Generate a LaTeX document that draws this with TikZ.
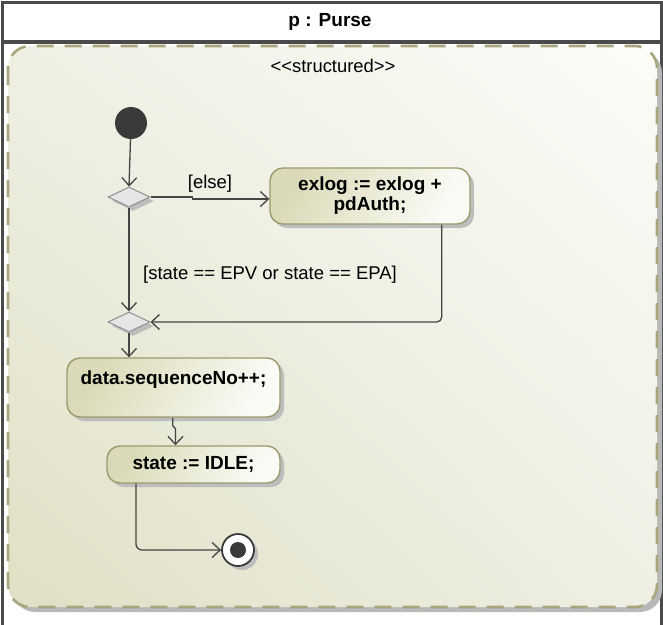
\documentclass[tikz,border=0pt]{standalone}
\usepackage{fontspec}
\setmainfont{Liberation Sans}
\usetikzlibrary{arrows.meta,shapes.geometric,shadows,shadings}
\definecolor{framegray}{HTML}{4A4A4A}
\definecolor{dashol}{HTML}{A9A57C}
\definecolor{regiondark}{HTML}{E0E0C6}
\definecolor{regionmid}{HTML}{EFEFE4}
\definecolor{regionlight}{HTML}{FCFCF8}
\definecolor{actdark}{HTML}{DADAB8}
\definecolor{actlight}{HTML}{FBFBF6}
\definecolor{actborder}{HTML}{9C9A6C}
\definecolor{edgegray}{HTML}{454545}
\definecolor{nodedark}{HTML}{3A3A3A}
\definecolor{diamfill}{HTML}{E6E6E6}
\definecolor{diamborder}{HTML}{8E8E8E}
\tikzset{
  softshadow/.style={general shadow={shadow xshift=4pt, shadow yshift=-4pt, fill=black!26}},
  actbox/.style={draw=actborder, line width=1.4pt, rounded corners=13pt,
    left color=actdark, right color=actlight, shading angle=60,
    softshadow, font=\fontsize{19}{20}\selectfont\bfseries, align=center, inner sep=0pt},
  decision/.style={diamond, draw=diamborder, line width=1pt, fill=diamfill,
    minimum width=42pt, minimum height=20pt, inner sep=0pt, softshadow},
  flow/.style={draw=edgegray, line width=1.3pt,
    -{Straight Barb[length=8pt,width=15pt,line width=1.3pt]}},
  guard/.style={font=\fontsize{18.5}{20}\selectfont, text=black, inner sep=0pt},
}
\begin{document}
\begin{tikzpicture}[x=1pt,y=-1pt]
\useasboundingbox (0,0) rectangle (663,624);
\fill[white] (0,0) rectangle (663,624);

% outer frame with title compartment
\draw[framegray, line width=3pt] (2,640) -- (2,2) -- (661,2) -- (661,640);
\draw[framegray, line width=3.5pt] (2,42) -- (661,42);
\node[font=\fontsize{19}{20}\selectfont\bfseries] (title) at (330,22) {p : Purse};

% structured region (y axis points down, so the shading's "lower" row is drawn on top)
\fill[black!28, rounded corners=22pt] (13,51) rectangle (662,612);
\shade[lower left=regiondark, lower right=regionmid, upper left=regionmid,
  upper right=regionlight, rounded corners=22pt]
  (8,46) rectangle (657,607);
\draw[dashol, line width=2.6pt, dash pattern=on 17pt off 11pt, rounded corners=22pt]
  (8,46) rectangle (657,607);
\node[font=\fontsize{18.4}{20}\selectfont] (stereo) at (333,66)
  {<\kern0pt<structured>\kern0pt>};

% activity nodes
\node[circle, fill=nodedark, minimum size=32pt, inner sep=0pt] (init) at (131,123) {};
\node[decision] (dec) at (129,197) {};
\node[decision] (merge) at (129,322) {};
\node[actbox, minimum width=200pt, minimum height=56pt] (exlog) at (370,196)
  {exlog := exlog +\\pdAuth;};
\node[actbox, minimum width=213pt, inner ysep=0pt, text height=26pt, text depth=33pt]
  (seq) at (173.5,387.5) {data.sequenceNo++;};
\node[actbox, minimum width=173pt, minimum height=37pt] (idle) at (193.5,464.5)
  {state := IDLE;};
\node[circle, draw=nodedark, line width=1.8pt, fill=white, minimum size=32pt,
  inner sep=0pt, softshadow] (final) at (238,550) {};
\node[circle, fill=nodedark, minimum size=16pt, inner sep=0pt] (finaldot) at (final.center) {};

% control flows
\draw[flow] (init) -- (dec.north);
\draw[flow] (dec.east) -- ++(42,0) -- ++(0,2) -- ([yshift=-3pt]exlog.west);
\node[guard] (elseguard) at (210,184) {[else]};
\draw[flow] (dec.south) -- (merge.north);
\node[guard] (stateguard) at (270,275) {[state == EPV or state == EPA]};
\draw[flow, rounded corners=5pt] ([xshift=71.7pt]exlog.south) |- (merge.east);
\draw[flow] (merge.south) -- (merge.south |- seq.north);
\draw[flow] ([xshift=-0.8pt]seq.south) -- ++(0,8) -- ++(2.8,3) -- ([xshift=-18pt]idle.north);
\draw[flow, rounded corners=6pt] ([xshift=-57.5pt]idle.south) |- (final.west);
\end{tikzpicture}
\end{document}
